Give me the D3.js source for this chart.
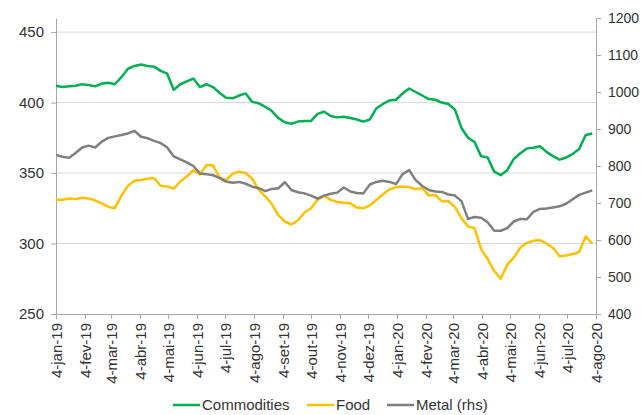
<!DOCTYPE html>
<html>
<head>
<meta charset="utf-8">
<script src="https://cdn.jsdelivr.net/npm/d3@7"></script>
<style>
  body { margin: 0; background: #fff; }
  text { font-family: "Liberation Sans", Arial, sans-serif; fill: #333; }
</style>
</head>
<body>
<script>
// weekly readings, starting friday 4-jan-19
var startDate = new Date(2019, 0, 4);

var commodities = [412, 411, 411.5, 412, 413, 412.5, 411.5, 413.5, 414, 413,
  418, 424, 426, 427, 426, 425.5, 422.5, 420.5, 409, 413,
  415, 417, 411, 413, 411, 407, 403.5, 403, 405, 406.5,
  400.5, 399.5, 397, 394, 389, 386, 385, 386.5, 387, 387,
  392, 393.5, 390.5, 389.5, 390, 389, 388, 386.5, 388, 396,
  399, 401.5, 402, 406.5, 410, 407.5, 405, 402.5, 402, 400,
  399, 395, 382, 375, 372, 362, 361, 351, 348.5, 352,
  360, 364, 367.5, 368, 369, 365, 362, 359.5, 361, 363.5,
  367, 377, 378];

var food = [331, 331, 332, 331.5, 332.5, 332, 330.5, 328.5, 326, 325,
  334, 341, 344.5, 345, 346, 346.5, 341, 340.5, 339, 344,
  347.5, 352, 349, 355.5, 355.5, 347, 345, 349.5, 351, 350,
  346, 338, 333.5, 328, 320, 315.5, 313.5, 316.5, 322, 325,
  331, 334, 331, 329.5, 329, 328.5, 325.5, 325, 327, 331,
  335, 338.5, 340, 340.5, 340, 338.5, 339.5, 334, 334.5, 330,
  330, 326, 318, 312, 311, 296, 289, 280.5, 275, 285,
  290, 297, 300.5, 302, 302.5, 300, 297, 291, 291.5, 292.5,
  294, 305, 300];

var metal = [830, 825, 822, 835, 850, 855, 850, 866, 876, 880,
  884, 888, 895, 879, 875, 868, 862, 850, 826, 818,
  810, 800, 780, 778, 775, 768, 758, 755, 757, 752,
  744, 740, 732, 738, 740, 756, 735, 729, 726, 720,
  712, 720, 725, 728, 742, 731, 727, 726, 750, 757,
  760, 757, 751, 778, 789, 762, 746, 735, 731, 730,
  723, 720, 705, 657, 662, 660, 648, 625, 625, 632,
  650, 657, 656, 676, 684, 685, 688, 691, 698, 710,
  722, 728, 734];

var leftTicks = [250, 300, 350, 400, 450];
var rightTicks = [400, 500, 600, 700, 800, 900, 1000, 1100, 1200];
var monthNames = ["jan", "fev", "mar", "abr", "mai", "jun", "jul", "ago", "set", "out", "nov", "dez"];

var width = 643, height = 415;
var plotLeft = 56, plotRight = 596, plotTop = 18, plotBottom = 314;

var svg = d3.select("body").append("svg")
  .attr("width", width)
  .attr("height", height);

var x = d3.scaleTime()
  .domain([new Date(2019, 0, 4), new Date(2020, 7, 4)])
  .range([plotLeft, plotRight]);
var yL = d3.scaleLinear().domain([250, 460]).range([plotBottom, plotTop]);
var yR = d3.scaleLinear().domain([400, 1200]).range([plotBottom, plotTop]);

var dates = commodities.map(function(d, i){ return d3.timeDay.offset(startDate, 7 * i); });

// gridlines
svg.append("g")
  .selectAll("line")
  .data(leftTicks.slice(1))
  .enter().append("line")
  .attr("x1", plotLeft).attr("x2", plotRight)
  .attr("y1", function(d){ return yL(d); })
  .attr("y2", function(d){ return yL(d); })
  .style("stroke", "#d9d9d9")
  .style("stroke-width", 1);

var xTicks = d3.range(20).map(function(i){ return new Date(2019, i, 4); });

var xAxis = svg.append("g")
  .attr("transform", "translate(0," + plotBottom + ")")
  .call(d3.axisBottom(x).tickValues(xTicks).tickSize(5).tickSizeOuter(0)
    .tickFormat(function(d){
      return d.getDate() + "-" + monthNames[d.getMonth()] + "-" + String(d.getFullYear()).slice(2);
    }));
xAxis.selectAll("text")
  .attr("transform", "rotate(-90)")
  .attr("x", -9)
  .attr("y", 0)
  .attr("dy", "0.35em")
  .style("text-anchor", "end")
  .style("font-size", "15px");

var yAxisL = svg.append("g")
  .attr("transform", "translate(" + plotLeft + ",0)")
  .call(d3.axisLeft(yL).tickValues(leftTicks).tickSize(5).tickSizeOuter(0).tickPadding(7));
yAxisL.selectAll("text").style("font-size", "15px");

var yAxisR = svg.append("g")
  .attr("transform", "translate(" + plotRight + ",0)")
  .call(d3.axisRight(yR).tickValues(rightTicks).tickFormat(d3.format("d"))
    .tickSize(5).tickSizeOuter(0).tickPadding(7));
yAxisR.selectAll("text").style("font-size", "14px");

svg.selectAll(".domain, .tick line")
  .style("stroke", "#a6a6a6")
  .style("stroke-width", 1);

var series = [
  {name: "Commodities", values: commodities, y: yL, color: "#00b050"},
  {name: "Food", values: food, y: yL, color: "#ffc000"},
  {name: "Metal (rhs)", values: metal, y: yR, color: "#7f7f7f"}
];

series.forEach(function(s){
  var line = d3.line()
    .x(function(d, i){ return x(dates[i]); })
    .y(function(d){ return s.y(d); });
  svg.append("path")
    .datum(s.values)
    .attr("d", line)
    .style("fill", "none")
    .style("stroke", s.color)
    .style("stroke-width", 2.5)
    .style("stroke-linejoin", "round");
});

// legend
var legendX = [173, 307, 387];
var legend = svg.selectAll(".legend")
  .data(series)
  .enter().append("g")
  .attr("transform", function(d, i){ return "translate(" + legendX[i] + ",405)"; });
legend.append("line")
  .attr("x1", 0).attr("x2", 27)
  .style("stroke", function(d){ return d.color; })
  .style("stroke-width", 2.5);
legend.append("text")
  .attr("x", 29)
  .attr("dy", "0.35em")
  .style("font-size", "15px")
  .text(function(d){ return d.name; });
</script>
</body>
</html>
